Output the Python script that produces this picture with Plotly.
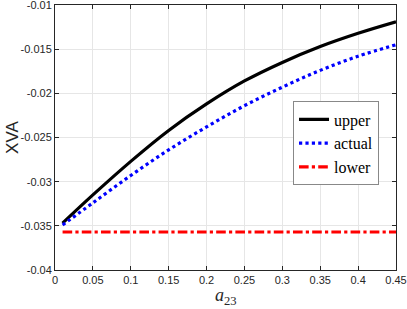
import plotly.graph_objects as go

x_vals = [0.01, 0.05, 0.10, 0.15, 0.20, 0.25, 0.30, 0.35, 0.40, 0.45]
upper = [-0.0347, -0.0315, -0.0277, -0.0242, -0.0212, -0.0186, -0.0165, -0.0147, -0.0132, -0.0119]
actual = [-0.0349, -0.0324, -0.0293, -0.0264, -0.0238, -0.0214, -0.0193, -0.0174, -0.0158, -0.0145]
lower = [-0.0357] * len(x_vals)

x_ticks = [0, 0.05, 0.1, 0.15, 0.2, 0.25, 0.3, 0.35, 0.4, 0.45]
x_tick_labels = ["0", "0.05", "0.1", "0.15", "0.2", "0.25", "0.3", "0.35", "0.4", "0.45"]
y_ticks = [-0.04, -0.035, -0.03, -0.025, -0.02, -0.015, -0.01]
y_tick_labels = ["-0.04", "-0.035", "-0.03", "-0.025", "-0.02", "-0.015", "-0.01"]

fig = go.Figure()
fig.add_trace(go.Scatter(x=x_vals, y=upper, mode="lines", name="upper",
                         line=dict(color="black", width=3.2, shape="spline")))
fig.add_trace(go.Scatter(x=x_vals, y=actual, mode="lines", name="actual",
                         line=dict(color="blue", width=3.2, dash="dot", shape="spline")))
fig.add_trace(go.Scatter(x=x_vals, y=lower, mode="lines", name="lower",
                         line=dict(color="red", width=3.2, dash="dashdot")))

axis_common = dict(
    showline=True, linecolor="#262626", linewidth=1, mirror="ticks",
    ticks="inside", ticklen=4, tickcolor="#262626",
    showgrid=True, gridcolor="#e6e6e6", gridwidth=1, zeroline=False,
    automargin=False, ticklabeloverflow="allow",
    tickfont=dict(family="Liberation Sans, Arial, sans-serif", size=11, color="#262626"),
)

fig.update_layout(
    width=407, height=309,
    margin=dict(l=55, r=11, t=5, b=39),
    plot_bgcolor="white", paper_bgcolor="white",
    xaxis=dict(range=[0, 0.45], tickvals=x_ticks, ticktext=x_tick_labels, **axis_common),
    yaxis=dict(range=[-0.04, -0.01], tickvals=y_ticks, ticktext=y_tick_labels, **axis_common),
    legend=dict(x=0.698, y=0.636, xanchor="left", yanchor="top",
                bgcolor="white", bordercolor="#888888", borderwidth=1,
                font=dict(family="Liberation Serif, serif", size=16, color="black"),
                itemwidth=30, tracegroupgap=0),
    showlegend=True,
    annotations=[
        dict(text="<i>a</i><sub>23</sub>", xref="paper", yref="paper",
             x=0.5, y=-0.1, xanchor="center", yanchor="middle", showarrow=False,
             font=dict(family="Liberation Serif, serif", size=18, color="#262626")),
        dict(text="XVA", xref="paper", yref="paper", textangle=-90,
             x=-0.125, y=0.5, xanchor="center", yanchor="middle", showarrow=False,
             font=dict(family="Liberation Sans, Arial, sans-serif", size=17, color="#262626")),
    ],
)

fig.write_html("out.html", config={"displayModeBar": False},
               post_script="document.body.style.margin='0';document.body.style.padding='0';")
